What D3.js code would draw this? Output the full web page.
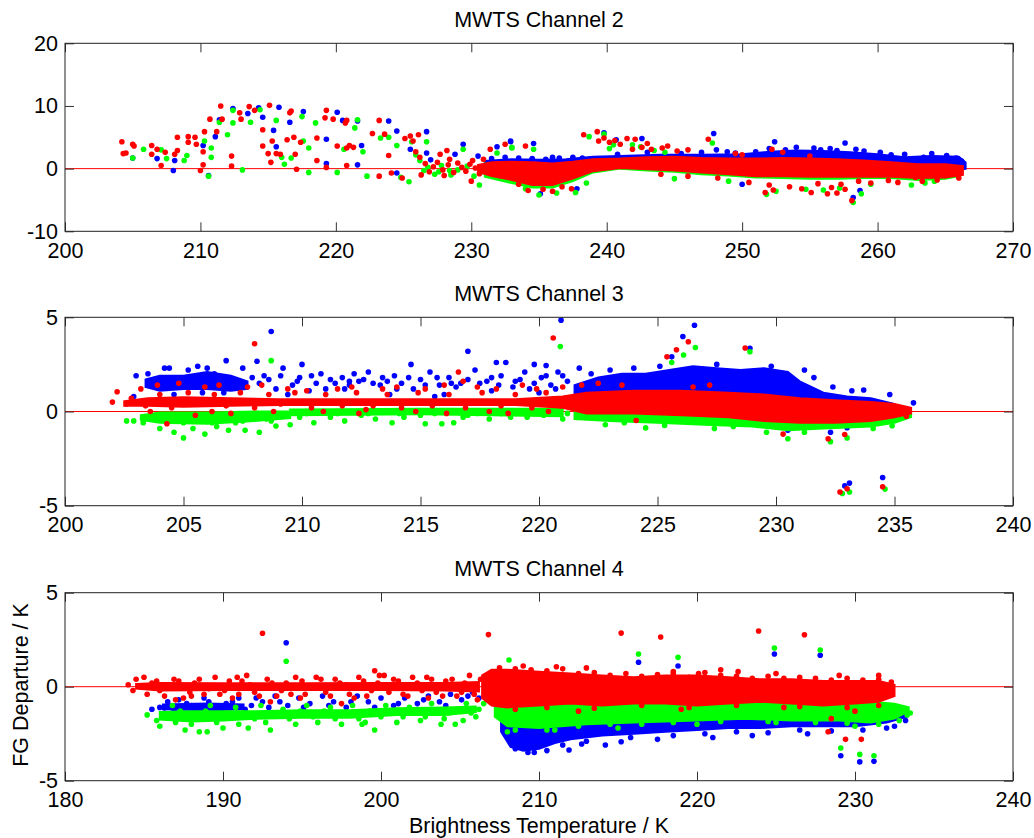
<!DOCTYPE html>
<html>
<head>
<meta charset="utf-8">
<script src="https://cdn.jsdelivr.net/npm/d3@7/dist/d3.min.js"></script>
<style>
  body { margin: 0; background: #fff; }
  text { font-family: "Liberation Sans", Arial, sans-serif; }
</style>
</head>
<body>
<svg id="fig" width="1034" height="838"></svg>
<script>
// ---- chart values ----
var titles = ["MWTS Channel 2", "MWTS Channel 3", "MWTS Channel 4"];
var xDomains = [[200, 270], [200, 240], [180, 240]];
var xTickVals = [[200, 210, 220, 230, 240, 250, 260, 270],
                 [200, 205, 210, 215, 220, 225, 230, 235, 240],
                 [180, 190, 200, 210, 220, 230, 240]];
var yDomains = [[-10, 20], [-5, 5], [-5, 5]];
var yTickVals = [[-10, 0, 10, 20], [-5, 0, 5], [-5, 0, 5]];
var xLabel = "Brightness Temperature / K";
var yLabel = "FG Departure / K";

// dense clouds: [T, low, high] envelopes, one list per segment
var ch2BlueCore = [[[231,-0.8,1.2],[233,-1.5,1.5],[235,-2.0,1.4],[237,-1.5,1.5],[239,-0.2,1.9],[241,0.2,2.0],[244,0.0,2.2],[247,-0.3,2.2],[250,-0.6,2.3],[252,-0.6,2.7],[254,-0.6,2.9],[256,-0.6,2.8],[258,-0.6,2.6],[260,-0.5,2.3],[262,-0.6,1.8],[264,-0.5,2.0],[266,-0.3,1.9],[266.5,0,1.0]]];
var ch2GreenCore = [[[231,-1.3,0.8],[233,-2.3,0.6],[234.5,-3.0,0.5],[236,-3.0,0.3],[237.5,-2.0,0.6],[239,-0.6,1.0],[241,0.0,1.2],[243,-0.3,1.3],[245,-0.5,1.3],[247,-0.9,1.2],[249,-1.1,1.0],[251,-1.4,1.0],[253,-1.5,1.0],[255,-1.6,1.0],[257,-1.6,0.8],[259,-1.5,0.6],[261,-1.5,0.5],[263,-1.8,0.3],[265,-1.6,0.3],[266,-1.2,0.2]]];
var ch2RedCore = [[[230.5,-0.5,0.6],[231.5,-1.2,1.0],[233,-1.8,1.1],[234.5,-2.6,1.0],[236,-2.6,0.8],[237.5,-1.6,1.1],[239,-0.4,1.5],[241,0.1,1.6],[243,-0.1,1.8],[245,-0.3,1.9],[247,-0.6,1.7],[249,-0.9,1.6],[251,-1.2,1.6],[253,-1.2,1.7],[255,-1.3,1.6],[257,-1.3,1.5],[259,-1.3,1.3],[261,-1.3,1.0],[263,-1.5,0.7],[265,-1.4,0.7],[266.3,-1.0,0.4]]];

var ch3BlueCore = [
  [[203.4,1.3,1.7],[204,1.1,1.9],[205,1.2,1.9],[206,1.2,2.1],[207,1.1,1.9],[207.7,1.2,1.6]],
  [[221.5,0.8,1.4],[222.5,0.8,1.8],[223.5,0.7,2.0],[224.5,0.7,2.0],[225.5,0.7,2.2],[226.5,0.7,2.4],[227.5,0.6,2.3],[228.5,0.6,2.2],[229.5,0.5,2.3],[230.5,0.4,2.1],[231,0.4,1.6],[232,0.2,1.0],[233,0.2,0.8],[234,0.1,0.7],[235,0.0,0.4]]];
var ch3GreenCore = [
  [[203.2,-0.45,-0.2],[204,-0.6,-0.05],[206,-0.65,-0.05],[208,-0.5,0.0],[209.5,-0.35,0.0]],
  [[209.5,-0.2,0.1],[215,-0.15,0.15],[221,-0.25,0.15]],
  [[221.5,-0.4,0.2],[223,-0.5,0.1],[225,-0.6,0.1],[227,-0.7,0.0],[229,-0.8,-0.1],[230.5,-1.0,-0.1],[232,-0.9,-0.1],[234,-0.8,0.0],[235,-0.6,0.0],[235.7,-0.3,0.0]]];
var ch3RedCore = [[[202.5,0.3,0.55],[203.5,0.3,0.7],[205,0.25,0.75],[207,0.3,0.7],[209,0.35,0.65],[211,0.35,0.65],[213,0.35,0.65],[215,0.35,0.65],[217,0.35,0.65],[219,0.35,0.65],[221,0.2,0.8],[222,-0.1,1.0],[224,-0.1,1.1],[226,-0.2,1.1],[228,-0.3,1.0],[229.5,-0.5,0.9],[231,-0.6,0.7],[232.5,-0.6,0.6],[234,-0.5,0.5],[235,-0.3,0.4],[235.7,-0.1,0.2]]];

var ch4BlueCore = [
  [[186.2,-1.2,-0.95],[189,-1.25,-0.9],[191.3,-1.2,-0.95]],
  [[207.6,-2.4,-1.7],[208.2,-3.2,-1.8],[209,-3.4,-1.8],[210,-3.3,-1.9],[211,-3.0,-1.9],[212,-2.8,-1.9],[214,-2.6,-1.8],[216,-2.5,-1.7],[218,-2.4,-1.6],[220,-2.3,-1.5],[222,-2.2,-1.5],[224,-2.2,-1.5],[226,-2.1,-1.5],[228,-2.1,-1.5],[230,-2.1,-1.5],[232,-1.9,-1.4],[233.3,-1.6,-1.3]]];
var ch4GreenCore = [
  [[186,-1.75,-1.35],[188,-1.85,-1.3],[190,-1.8,-1.3],[192,-1.7,-1.3],[195,-1.65,-1.25],[198,-1.65,-1.25],[201,-1.5,-1.15],[204,-1.5,-1.1],[206,-1.35,-1.05]],
  [[207.2,-1.6,-0.9],[208,-2.1,-0.9],[210,-2.2,-0.8],[213,-2.0,-0.8],[216,-1.9,-0.8],[220,-1.8,-0.7],[223,-1.7,-0.7],[226,-1.8,-0.8],[229,-1.8,-0.8],[231,-1.9,-0.8],[232.5,-1.7,-0.9],[233.4,-1.3,-1.1]]];
var ch4RedCore = [
  [[184.5,-0.1,0.15],[186,-0.2,0.2],[190,-0.18,0.18],[195,-0.18,0.18],[200,-0.18,0.2],[204,-0.2,0.2],[206.2,-0.25,0.25]],
  [[206.4,-0.6,0.6],[207,-1.0,0.9],[208,-1.1,0.9],[210,-1.0,0.8],[212,-0.9,0.7],[214,-1.0,0.6],[216,-0.9,0.5],[218,-0.9,0.6],[220,-1.0,0.6],[222,-0.9,0.5],[224,-0.8,0.4],[226,-0.9,0.4],[228,-1.0,0.3],[230,-0.9,0.3],[231.5,-0.8,0.3],[232.5,-0.5,0.1]]];

// scattered points, "T,departure" pairs
var ch2BluePts = "205.0,1.7 206.8,1.6 208.1,1.3 208.0,-0.3 210.2,3.7 210.6,-1.1 211.1,5.1 211.4,7.8 212.4,9.6 213.5,8.8 214.3,9.7 214.6,8.2 215.8,9.8 215.4,6.1 215.6,3.5 216.6,7.4 217.6,9.1 219.3,4.7 219.3,0.8 220.1,9.0 220.5,7.7 221.6,7.6 221.6,0.6 221.9,3.7 223.9,7.6 224.5,6.0 224.5,-0.7 225.5,3.1 226.7,5.9 226.7,2.5 229.4,3.9 231.9,3.5 232.9,4.4 234.5,1.5 232.9,4.3 234.6,4.0 239.8,5.7 240.7,4.6 242.6,4.8 247.9,5.6 252.4,4.3 257.6,4.1 258.4,3.1 248.1,3.0 248.9,2.7 255.3,3.3 258.7,-3.5 258.2,-4.6 250.0,-2.5 237.8,-3.2 235.1,-4.0 263.4,1.8 265.1,2.1 236.0,1.8 238.2,1.7 240.8,2.3 243.0,2.6 245.5,2.4 247.0,2.6 249.5,2.5 251.0,2.7 252.0,3.2 253.2,3.0 254.0,3.4 255.8,3.0 256.5,3.2 257.0,2.9 259.0,2.8 260.2,2.6 261.0,2.2 262.0,2.3 264.0,2.4 264.8,1.5 265.8,1.7 266.2,1.2 227.0,1.4 228.8,2.3 230.5,2.0 231.5,1.6 232.5,1.8 233.5,1.7 234.5,1.6 235.5,1.5 236.5,1.7 237.5,1.8";
var ch2GreenPts = "205.0,1.7 205.8,3.1 207.1,3.0 207.5,1.6 208.8,1.3 209.0,2.1 210.3,4.4 210.8,3.3 210.8,1.8 210.6,-1.2 211.4,7.4 212.0,5.4 212.4,9.3 212.4,7.3 213.1,-0.2 213.7,7.4 214.4,9.4 215.6,7.7 216.0,1.8 216.2,0.7 216.7,1.7 217.5,8.3 217.6,4.4 218.0,3.3 218.0,-0.6 218.5,7.3 220.1,-0.6 220.6,3.1 221.4,6.5 221.6,7.8 222.0,2.7 222.3,-1.2 223.3,4.9 223.9,5.0 224.5,3.7 224.8,-1.4 225.4,-2.1 225.6,4.3 225.9,2.2 226.2,1.3 226.5,-0.3 226.7,4.3 227.6,-0.5 228.4,-0.3 229.4,3.1 230.6,-2.6 231.9,2.5 233.0,3.3 234.6,3.1 233.0,3.4 238.7,5.1 239.8,5.5 240.5,3.8 241.9,3.8 247.8,4.1 254.7,-3.3 258.2,-5.4 258.8,-4.0 251.8,-4.1 235.0,-4.2 236.3,-3.9 237.7,-3.8 234.0,-3.2 226.8,0.2 227.3,-0.9 227.8,0.5 228.5,-1.0 229.0,-0.2 229.7,0.4 230.2,-1.2 230.8,-0.5 240.2,3.2 242.5,3.5 243.5,2.9 244.3,2.6 252.5,-3.6 256.0,-3.4 257.2,-3.1 259.5,-2.5 262.5,-2.6 263.5,-2.3 264.2,-2.0 249.0,-2.0 245.0,-1.6 238.5,-2.3";
var ch2RedPts = "204.2,4.3 204.3,2.4 204.5,2.5 205.0,3.9 205.1,3.6 206.4,3.7 206.4,2.3 206.8,3.1 207.1,0.5 207.4,2.6 208.1,2.3 208.3,5.0 208.3,2.9 209.1,5.1 209.1,4.2 209.6,5.0 209.7,3.9 210.0,-0.3 210.2,0.6 210.2,2.7 210.3,5.9 210.7,7.9 211.2,5.9 211.5,10.0 211.6,7.9 212.3,2.0 212.3,0.4 212.9,8.9 213.0,7.9 213.6,9.9 214.0,9.3 214.6,6.2 215.1,10.1 214.6,3.6 215.0,2.4 215.2,1.0 215.3,4.4 215.6,2.4 215.9,2.3 216.4,4.6 216.6,8.9 216.7,9.2 216.9,5.0 217.0,2.3 217.1,-0.1 217.4,4.2 218.6,4.9 218.6,1.3 219.2,8.1 219.3,9.3 219.3,0.2 219.8,7.9 220.1,3.6 220.7,7.3 220.8,7.7 220.8,3.3 220.8,0.5 221.0,3.7 221.3,3.4 222.7,5.6 223.2,7.7 223.2,-1.2 223.6,5.5 223.9,2.1 224.1,-0.7 224.9,-1.5 225.1,4.8 225.5,5.2 225.7,4.4 226.1,5.4 225.9,2.7 226.2,1.8 227.7,2.3 228.2,2.9 228.4,1.5 230.1,1.3 230.0,-2.0 231.4,3.1 232.1,-1.1 234.0,3.6 232.5,3.9 238.3,5.4 239.3,5.9 239.4,4.4 240.2,4.2 241.5,4.8 242.1,4.7 241.9,3.1 243.3,3.1 244.1,3.3 246.0,3.0 247.5,4.7 252.2,3.1 253.0,2.6 251.7,-3.8 252.3,-3.4 255.1,-3.8 256.3,-4.0 257.0,-3.9 258.1,-5.1 257.3,-2.5 262.8,-1.4 266.0,-1.5 233.5,-2.5 234.2,-3.5 237.4,-3.2 236.7,-2.9 226.6,0.8 226.9,-0.5 227.2,0.3 227.5,1.0 227.9,-0.2 228.3,0.6 228.7,-0.6 229.0,0.9 229.3,0.2 229.6,-0.4 229.9,0.7 230.3,0.1 230.6,-0.8 230.9,1.5 226.3,-1.0 228.0,-1.1 239.8,4.9 240.6,4.5 241.0,3.9 242.6,3.4 243.0,4.0 244.5,3.6 245.2,2.8 249.5,2.4 250.5,-2.2 252.0,-2.6 253.5,-2.9 254.4,-3.2 255.6,-2.4 256.6,-3.0 257.6,-3.3 258.6,-2.0 259.5,-2.3 260.8,-1.9 261.5,-2.2 263.3,-2.0 264.4,-1.8 265.0,-1.1 236.0,-3.6 235.3,-3.3 248.2,-1.5 246.0,-1.2 244.0,-0.9 250.0,2.2 255.0,2.0";

var ch3BluePts = "208.7,4.25 217.0,3.2 218.2,2.6 208.1,2.67 206.8,2.7 209.2,2.3 210.0,2.5 214.6,2.5 218.6,2.6 219.8,2.5 220.93,4.85 226.56,4.58 226.07,3.98 225.6,2.9 225.1,2.4 228.9,3.36 220.3,2.44 221.7,2.3 233.7,1.14 234.8,0.9 235.8,0.46 230.5,-1.0 232.3,-1.1 233.0,-0.86 234.5,-3.5 233.1,-3.8 232.9,-3.95 234.9,-0.4 203.0,1.9 203.5,2.0 204.2,2.3 204.4,2.3 205.2,2.2 205.6,2.4 206.0,2.3 206.3,2.0 207.5,2.3 208.4,1.9 208.9,1.2 209.6,1.4 209.9,1.8 210.3,1.1 210.6,1.5 211.0,1.2 212.2,2.0 212.4,1.6 212.8,2.1 213.3,1.4 213.9,1.9 214.2,1.5 214.7,1.2 215.0,1.7 215.4,2.1 215.8,1.4 216.2,1.8 216.5,1.3 217.3,2.2 217.8,1.6 218.4,1.9 218.9,1.3 219.2,1.7 219.6,1.2 220.1,1.8 220.5,1.4 220.8,2.1 221.2,1.6 204.6,0.9 205.8,1.0 206.7,1.0 207.2,1.3 209.4,0.9 211.8,1.2 213.7,0.9 216.0,0.9 218.0,1.1 220.0,1.0 207.9,1.8 210.8,2.0 212.0,1.4 203.8,1.3 202.9,0.8 215.6,0.8 219.4,2.1 231.6,1.8 232.4,1.3 233.2,1.1 231.2,2.2 211.4,1.5 211.7,1.8 212.0,1.6 212.6,1.7 213.0,1.5 213.4,1.8 216.7,1.5 217.0,1.7 217.5,1.5 218.0,1.8 218.3,1.4 222.2,2.0 223.0,2.2 224.0,2.3 227.5,2.5 229.8,2.4 208.2,1.5 208.6,1.7 209.1,1.9 209.8,1.6 210.4,1.9 211.2,1.7 213.6,1.6 214.0,1.2 214.5,1.8 215.2,1.4 215.7,1.8 216.3,1.5 219.0,1.6 219.8,1.5 220.3,1.9 220.7,1.2 221.0,1.9";
var ch3GreenPts = "208.7,2.7 205.0,-1.4 208.2,-1.1 207.6,-1.0 206.9,-1.0 202.6,-0.5 208.9,-0.77 209.5,-0.7 215.2,-0.65 216.4,-0.6 215.9,-0.65 218.8,-0.3 217.4,-0.1 220.9,3.45 225.6,2.6 226.1,3.0 226.6,3.4 228.9,3.17 230.5,-1.45 232.3,-1.6 233.0,-1.4 232.8,-4.35 233.1,-4.27 234.6,-4.12 224.5,-0.87 225.3,-0.74 234.9,-0.76 202.9,-0.5 203.3,-0.6 204.0,-0.9 204.6,-1.1 205.4,-0.9 205.9,-1.2 206.4,-0.8 207.2,-0.6 208.5,-0.4 209.9,-0.3 210.5,-0.6 211.2,-0.3 211.8,-0.5 212.5,-0.2 213.1,-0.4 213.8,-0.6 214.3,-0.3 215.0,-0.2 216.8,-0.3 217.9,-0.4 219.5,-0.3 220.2,-0.2 221.0,-0.4 222.8,-0.7 223.6,-0.6 227.4,-0.9 228.2,-0.8 229.6,-1.1 231.2,-1.1 234.1,-0.9 235.6,-0.2 203.7,-0.3 204.3,-0.5 205.0,-0.6 205.6,-0.4 206.2,-0.6 206.8,-0.3 207.5,-0.5 208.1,-0.3 208.7,-0.5 209.3,-0.2 210.2,-0.1 211.5,-0.1 212.8,-0.1 214.1,-0.1 215.6,-0.1 217.0,-0.2 218.4,-0.1 219.8,-0.1 221.2,-0.1";
var ch3RedPts = "208.0,3.6 216.6,2.1 202.2,1.05 204.3,-0.65 216.1,-0.1 220.6,3.9 225.4,2.9 225.8,3.28 226.3,3.7 228.7,3.37 230.3,-1.2 232.2,-1.45 232.9,-1.22 232.7,-4.27 233.0,-4.1 234.5,-4.0 224.1,-0.48 235.5,-0.25 202.0,0.5 202.6,0.4 203.2,1.2 203.9,1.4 204.8,1.5 205.5,-0.2 205.9,1.3 206.5,1.4 207.0,-0.1 207.7,1.3 208.3,1.4 208.8,0.0 209.4,1.2 210.2,1.1 210.9,0.0 211.5,1.2 212.1,1.3 212.7,0.1 213.4,1.2 214.0,1.3 214.8,0.0 215.2,1.2 216.0,1.4 216.8,1.6 217.4,1.3 218.2,1.2 218.7,-0.1 219.3,1.4 219.9,1.2 220.4,0.0 221.0,1.3 206.2,0.0 212.4,-0.1 217.9,0.0 203.6,0.0 221.8,1.4 222.5,1.5 223.5,1.4 226.5,1.3 227.2,1.4 202.8,0.7 203.4,0.3 204.0,0.9 204.5,0.2 205.2,1.0 205.7,0.4 206.3,0.9 206.8,0.3 207.4,1.0 208.0,0.2 208.6,0.9 209.1,0.4 209.7,1.0 210.4,0.2 211.0,0.9 211.7,0.3 212.3,1.0 213.0,0.3 213.6,0.9 214.2,0.2 214.9,1.0 215.5,0.3 216.2,0.9 216.9,0.2 217.6,1.0 218.4,0.3 219.0,0.9 219.7,0.2 220.3,1.0 220.9,0.3";

var ch4BluePts = "194.0,2.34 216.3,1.3 218.8,1.1 224.9,1.74 227.8,1.67 229.1,-3.67 230.3,-4.0 231.2,-3.97 209.7,-3.5 211.9,-3.37 212.7,-3.05 214.2,-3.1 215.2,-2.93 185.5,-1.2 186.5,-0.8 187.2,-0.7 188.0,-1.0 188.8,-0.6 189.5,-1.1 190.2,-0.9 191.0,-0.6 191.8,-1.0 192.5,-0.8 193.3,-0.5 194.1,-1.0 194.8,-0.6 195.5,-0.9 196.3,-0.5 197.0,-0.8 197.8,-1.1 198.5,-0.5 199.2,-0.8 200.0,-0.6 200.8,-1.0 201.5,-0.6 202.3,-0.9 203.0,-0.5 203.7,-0.8 204.4,-0.4 205.1,-0.7 205.8,-0.3 206.2,-0.6 217.5,-2.8 221.0,-2.7 223.5,-2.6 227.0,-2.5 232.0,-2.2 233.2,-1.8 186.0,-1.1 186.9,-1.2 187.7,-0.9 188.4,-1.3 189.1,-0.8 189.9,-1.3 190.6,-0.8 191.4,-1.2 192.1,-0.6 192.9,-1.1 193.6,-0.8 195.1,-1.1 196.7,-1.0 198.1,-0.8 199.6,-1.1 201.1,-0.9 202.7,-0.7 204.1,-1.0 205.5,-0.5 186.3,-1.4 187.4,-1.5 188.6,-1.6 190.0,-1.6 208.5,-3.3 209.3,-3.5 210.5,-3.4 211.5,-3.1 213.0,-2.9 215.8,-2.7 218.5,-2.6 220.5,-2.5 222.5,-2.4 224.5,-2.45 226.5,-2.3 228.5,-2.35 230.5,-2.3 232.5,-2.1";
var ch4GreenPts = "194.0,1.35 208.1,1.42 216.3,1.74 218.8,1.56 224.9,2.06 227.8,1.95 229.1,-3.26 230.3,-3.6 231.2,-3.67 185.2,-1.5 186.0,-2.1 186.8,-1.0 187.6,-2.3 188.5,-2.4 189.2,-1.0 190.0,-2.2 190.8,-1.1 191.6,-2.2 192.4,-1.0 193.0,-2.3 193.8,-1.2 194.6,-2.0 195.3,-1.0 196.0,-1.9 196.8,-1.1 197.5,-2.0 198.2,-1.0 199.0,-1.9 199.6,-2.3 200.3,-1.0 201.0,-1.9 201.8,-1.1 202.5,-1.8 203.2,-0.9 204.0,-1.7 204.7,-2.0 205.4,-0.9 206.0,-1.6 206.5,-0.9 208.0,-2.4 211.0,-2.3 215.0,-2.2 220.0,-2.0 225.0,-1.9 230.0,-2.1 233.3,-1.5 185.8,-1.8 186.3,-1.5 187.0,-1.9 187.3,-1.3 188.0,-2.0 188.2,-1.6 188.9,-1.3 189.6,-1.9 190.3,-1.5 191.0,-2.0 191.3,-1.4 192.0,-1.7 192.7,-1.9 193.5,-1.5 194.2,-1.7 194.9,-1.3 195.7,-1.6 196.4,-1.3 197.1,-1.7 197.9,-1.4 198.6,-1.7 199.3,-1.3 200.0,-1.6 200.7,-1.4 201.4,-1.6 202.1,-1.3 202.8,-1.6 203.5,-1.3 204.3,-1.4 205.0,-1.2 205.7,-1.4 206.2,-1.2 189.0,-2.4 198.8,-2.0 203.8,-2.0 205.2,-1.8 208.5,-2.3 210.5,-2.3 212.5,-2.1 214.5,-2.0 216.5,-2.0 218.5,-1.9 221.5,-1.85 224.5,-1.85 227.5,-1.9 229.5,-1.95 231.5,-2.0 232.8,-1.8 233.5,-1.4";
var ch4RedPts = "192.5,2.84 206.8,2.77 191.5,0.6 199.6,0.85 200.2,0.6 215.2,2.85 217.7,2.64 223.9,2.96 226.8,2.76 229.4,-2.8 230.4,-2.8 228.3,-2.4 211.1,1.06 222.6,0.8 220.1,0.7 184.0,0.1 184.5,0.4 185.2,-0.4 185.8,0.3 186.3,-0.5 186.9,0.4 187.5,-0.6 188.2,0.2 188.8,-0.4 189.5,0.5 190.1,-0.2 190.6,-0.6 191.2,0.3 192.0,-0.3 192.8,0.4 193.4,-0.5 194.0,0.2 194.6,0.5 195.2,-0.4 195.9,0.5 196.5,-0.3 197.1,0.4 197.8,0.1 198.3,-0.6 198.9,0.3 199.4,-0.2 200.8,0.4 201.4,-0.4 202.0,0.5 202.6,-0.2 203.2,0.4 203.9,-0.5 204.5,0.4 205.1,-0.3 205.6,0.6 206.1,-0.7 197.5,-0.9 193.0,-0.8 187.0,-0.7 209.0,1.1 213.0,1.0 218.5,0.8 221.5,0.9 225.0,0.7 229.0,0.6 231.5,0.6 212.5,-1.3 219.0,-1.2 225.5,-1.1 230.0,-1.3 228.5,-1.7 184.3,-0.2 184.8,0.0 185.5,0.2 186.0,-0.2 186.6,0.1 187.2,0.3 187.9,-0.3 188.5,0.4 189.1,-0.1 189.8,-0.4 190.4,0.3 191.0,-0.4 191.7,0.1 192.3,-0.5 193.1,0.2 193.7,-0.2 194.3,-0.4 195.0,0.3 195.6,0.0 196.2,0.4 196.8,-0.5 197.4,0.2 198.0,-0.4 198.6,0.5 199.1,-0.5 199.8,0.2 200.5,-0.3 201.1,0.3 201.7,-0.5 202.3,0.2 202.9,0.5 203.5,-0.3 204.1,0.3 204.8,-0.5 205.3,0.2 205.9,-0.4 206.3,0.4 185.0,0.5 188.0,-0.5 190.9,0.5 194.9,-0.6 199.9,0.6 203.0,-0.6 207.5,1.0 208.5,0.95 209.5,0.9 210.5,0.85 211.5,0.95 212.5,0.7 213.5,0.75 214.5,0.6 215.5,0.7 216.5,0.55 217.5,0.65 218.5,0.7 219.5,0.5 220.5,0.75 221.5,0.6 222.5,0.55 223.5,0.45 224.5,0.55 225.5,0.45 226.5,0.5 227.5,0.45 228.5,0.35 229.5,0.45 230.5,0.35 231.5,0.4 232.3,0.25 208.5,-1.2 210.5,-1.1 213.5,-1.15 216.5,-1.0 219.5,-1.1 222.5,-1.0 226.5,-1.05 229.5,-1.1 231.5,-1.0";

// ---- layout ----
var W = 1034, H = 838;
var left = 65, right = 1013;
var tops = [43.3, 317.3, 592.7];
var bottoms = [231.3, 505.7, 780.7];
var fontSize = 21.5;
var colors = { blue: "#0000ff", green: "#00ff00", red: "#ff0000" };

function parsePts(s) {
  return s.trim().split(/\s+/).map(function(p){ var a = p.split(","); return [+a[0], +a[1]]; });
}

var panels = [
  { series: [["blue", ch2BlueCore, ch2BluePts], ["green", ch2GreenCore, ch2GreenPts], ["red", ch2RedCore, ch2RedPts]] },
  { series: [["blue", ch3BlueCore, ch3BluePts], ["green", ch3GreenCore, ch3GreenPts], ["red", ch3RedCore, ch3RedPts]] },
  { series: [["blue", ch4BlueCore, ch4BluePts], ["green", ch4GreenCore, ch4GreenPts], ["red", ch4RedCore, ch4RedPts]] }
];

var svg = d3.select("#fig");
svg.append("rect").attr("width", W).attr("height", H).attr("fill", "#fff");

panels.forEach(function(p, i){
  var x = d3.scaleLinear().domain(xDomains[i]).range([left, right]);
  var y = d3.scaleLinear().domain(yDomains[i]).range([bottoms[i], tops[i]]);
  var g = svg.append("g");

  g.append("clipPath").attr("id", "clip" + i)
    .append("rect").attr("x", left).attr("y", tops[i])
    .attr("width", right - left).attr("height", bottoms[i] - tops[i]);

  var plot = g.append("g").attr("clip-path", "url(#clip" + i + ")");

  // zero reference line
  plot.append("line")
    .attr("x1", left).attr("x2", right)
    .attr("y1", y(0)).attr("y2", y(0))
    .attr("stroke", "#ff0000").attr("stroke-width", 1);

  var area = d3.area()
    .x(function(d){ return x(d[0]); })
    .y0(function(d){ return y(d[1]); })
    .y1(function(d){ return y(d[2]); });

  p.series.forEach(function(s){
    var col = colors[s[0]];
    plot.selectAll(null).data(s[1]).enter().append("path")
      .attr("d", area)
      .attr("fill", col)
      .attr("stroke", col)
      .attr("stroke-width", 2);
    plot.selectAll(null).data(parsePts(s[2])).enter().append("circle")
      .attr("cx", function(d){ return x(d[0]); })
      .attr("cy", function(d){ return y(d[1]); })
      .attr("r", 2.8)
      .attr("fill", col);
  });

  // axes, ticks pointing inward on all four sides
  var tickCol = "#333";
  var fmt = function(d){ return String(d); };
  g.append("g").attr("transform", "translate(0," + bottoms[i] + ")")
    .call(d3.axisBottom(x).tickValues(xTickVals[i]).tickFormat(fmt).tickSizeInner(-9).tickSizeOuter(0).tickPadding(11));
  g.append("g").attr("transform", "translate(0," + tops[i] + ")")
    .call(d3.axisTop(x).tickValues(xTickVals[i]).tickSizeInner(-9).tickSizeOuter(0).tickFormat(""));
  g.append("g").attr("transform", "translate(" + left + ",0)")
    .call(d3.axisLeft(y).tickValues(yTickVals[i]).tickFormat(fmt).tickSizeInner(-9).tickSizeOuter(0).tickPadding(7));
  g.append("g").attr("transform", "translate(" + right + ",0)")
    .call(d3.axisRight(y).tickValues(yTickVals[i]).tickSizeInner(-9).tickSizeOuter(0).tickFormat(""));

  g.selectAll(".domain").remove();
  g.selectAll(".tick line").attr("stroke", tickCol);
  g.selectAll(".tick text")
    .attr("fill", "#000")
    .style("font-size", fontSize + "px")
    .style("font-family", "'Liberation Sans', Arial, sans-serif");

  // box
  g.append("rect")
    .attr("x", left).attr("y", tops[i])
    .attr("width", right - left).attr("height", bottoms[i] - tops[i])
    .attr("fill", "none").attr("stroke", "#222").attr("stroke-width", 1);

  g.append("text")
    .attr("x", (left + right) / 2).attr("y", tops[i] - 16.5)
    .attr("text-anchor", "middle")
    .style("font-size", fontSize + "px")
    .text(titles[i]);
});

svg.append("text")
  .attr("x", (left + right) / 2).attr("y", 833)
  .attr("text-anchor", "middle")
  .style("font-size", fontSize + "px")
  .text(xLabel);

svg.append("text")
  .attr("transform", "translate(28,685) rotate(-90)")
  .attr("text-anchor", "middle")
  .style("font-size", fontSize + "px")
  .text(yLabel);
</script>
</body>
</html>
